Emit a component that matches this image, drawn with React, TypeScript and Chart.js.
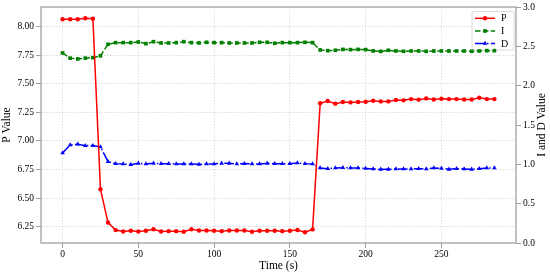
import React, { useEffect, useRef } from "react";
import { Chart, registerables } from "chart.js";

Chart.register(...registerables);

const timeS = [0, 5, 10, 15, 20, 25, 30, 35, 40, 45, 50, 55, 60, 65, 70, 75, 80, 85, 90, 95, 100, 105, 110, 115, 120, 125, 130, 135, 140, 145, 150, 155, 160, 165, 170, 175, 180, 185, 190, 195, 200, 205, 210, 215, 220, 225, 230, 235, 240, 245, 250, 255, 260, 265, 270, 275, 280, 285];

const pValues = [8.067, 8.067, 8.067, 8.076, 8.072, 6.577, 6.285, 6.219, 6.207, 6.213, 6.207, 6.213, 6.226, 6.207, 6.21, 6.21, 6.204, 6.226, 6.215, 6.215, 6.213, 6.21, 6.215, 6.215, 6.215, 6.204, 6.213, 6.213, 6.213, 6.21, 6.213, 6.22, 6.2, 6.225, 7.33, 7.35, 7.327, 7.341, 7.338, 7.341, 7.344, 7.353, 7.347, 7.347, 7.359, 7.356, 7.367, 7.362, 7.373, 7.364, 7.37, 7.367, 7.367, 7.364, 7.364, 7.379, 7.367, 7.367];

const iValues = [2.416, 2.35, 2.34, 2.35, 2.356, 2.38, 2.526, 2.547, 2.547, 2.547, 2.555, 2.534, 2.559, 2.543, 2.543, 2.547, 2.559, 2.547, 2.543, 2.551, 2.547, 2.547, 2.543, 2.543, 2.543, 2.543, 2.551, 2.551, 2.539, 2.547, 2.547, 2.547, 2.551, 2.547, 2.454, 2.445, 2.45, 2.461, 2.458, 2.461, 2.458, 2.442, 2.436, 2.45, 2.441, 2.437, 2.441, 2.441, 2.437, 2.441, 2.441, 2.441, 2.441, 2.441, 2.437, 2.441, 2.445, 2.445];

const dValues = [1.144, 1.246, 1.255, 1.238, 1.238, 1.221, 1.034, 1.009, 1.005, 0.996, 1.013, 1.005, 1.013, 1.009, 1.009, 1.005, 1.005, 1.005, 1.0, 1.005, 1.005, 1.013, 1.013, 1.005, 1.009, 1.005, 1.005, 1.013, 1.009, 1.009, 1.009, 1.017, 1.009, 1.005, 0.954, 0.945, 0.954, 0.958, 0.954, 0.954, 0.949, 0.941, 0.937, 0.937, 0.941, 0.941, 0.941, 0.945, 0.941, 0.954, 0.949, 0.937, 0.945, 0.941, 0.937, 0.945, 0.954, 0.954];

const xTicks = [0, 50, 100, 150, 200, 250];
const pTicks = [6.25, 6.5, 6.75, 7.0, 7.25, 7.5, 7.75, 8.0];
const idTicks = [0, 0.5, 1.0, 1.5, 2.0, 2.5, 3.0];
const seriesLabels = ["P", "I", "D"];
const xTitle = "Time (s)";
const pTitle = "P Value";
const idTitle = "I and D Value";

const FONT = "'Liberation Serif', 'Times New Roman', serif";
const RED = "#ff0000";
const GREEN = "#008000";
const BLUE = "#0000ff";
const GRID = "#d4d4d4";
const SPINE = "#a0a0a0";

export default function App() {
  const ref = useRef<HTMLCanvasElement>(null);

  useEffect(() => {
    document.body.style.margin = "0";
    const canvas = ref.current;
    if (!canvas) return;

    const zeroPad = (s: any) => {
      s.paddingTop = 0;
      s.paddingBottom = 0;
      s.paddingLeft = 0;
      s.paddingRight = 0;
    };

    const framePlugin = {
      id: "frame",
      afterDatasetsDraw(chart: any) {
        const { ctx, chartArea: a } = chart;
        ctx.save();
        ctx.strokeStyle = SPINE;
        ctx.lineWidth = 1.3;
        ctx.strokeRect(a.left, a.top, a.right - a.left, a.bottom - a.top);
        ctx.restore();
      },
    };

    const rightTitlePlugin = {
      id: "rightTitle",
      afterDraw(chart: any) {
        const { ctx, chartArea: a } = chart;
        ctx.save();
        ctx.translate(541.5, (a.top + a.bottom) / 2);
        ctx.rotate(-Math.PI / 2);
        ctx.fillStyle = "#000";
        ctx.font = `11.5px ${FONT}`;
        ctx.textAlign = "center";
        ctx.textBaseline = "middle";
        ctx.fillText(idTitle, 0, 0);
        ctx.restore();
      },
    };

    const legendPlugin = {
      id: "innerLegend",
      beforeDatasetsDraw(chart: any) {
        const { ctx } = chart;
        const bx = 472, by = 11.5, bw = 42, bh = 38.5;
        ctx.save();
        ctx.beginPath();
        const r = 2;
        ctx.moveTo(bx + r, by);
        ctx.lineTo(bx + bw - r, by);
        ctx.quadraticCurveTo(bx + bw, by, bx + bw, by + r);
        ctx.lineTo(bx + bw, by + bh - r);
        ctx.quadraticCurveTo(bx + bw, by + bh, bx + bw - r, by + bh);
        ctx.lineTo(bx + r, by + bh);
        ctx.quadraticCurveTo(bx, by + bh, bx, by + bh - r);
        ctx.lineTo(bx, by + r);
        ctx.quadraticCurveTo(bx, by, bx + r, by);
        ctx.closePath();
        ctx.fillStyle = "rgba(255,255,255,0.85)";
        ctx.fill();
        ctx.strokeStyle = "#d0d0d0";
        ctx.lineWidth = 0.8;
        ctx.stroke();

        const rows = [18.3, 31, 43.5];
        chart.data.datasets.forEach((ds: any, i: number) => {
          const y = rows[i];
          ctx.save();
          ctx.strokeStyle = ds.borderColor;
          ctx.lineWidth = ds.borderWidth;
          ctx.setLineDash(ds.borderDash || []);
          ctx.beginPath();
          ctx.moveTo(475, y);
          ctx.lineTo(495, y);
          ctx.stroke();
          ctx.restore();
          ctx.save();
          ctx.fillStyle = ds.backgroundColor;
          ctx.strokeStyle = ds.backgroundColor;
          ctx.setLineDash([]);
          const mx = 485;
          const rr = ds.pointRadius;
          ctx.beginPath();
          if (ds.pointStyle === "circle") {
            ctx.arc(mx, y, rr, 0, Math.PI * 2);
          } else if (ds.pointStyle === "rect") {
            const s = rr * Math.SQRT1_2;
            ctx.rect(mx - s, y - s, 2 * s, 2 * s);
          } else {
            const h = rr * 1.5;
            ctx.moveTo(mx, y - rr);
            ctx.lineTo(mx + rr * 0.866, y + rr * 0.5);
            ctx.lineTo(mx - rr * 0.866, y + rr * 0.5);
            ctx.closePath();
            void h;
          }
          ctx.fill();
          ctx.restore();
          ctx.save();
          ctx.fillStyle = "#000";
          ctx.font = `10px ${FONT}`;
          ctx.textBaseline = "middle";
          ctx.textAlign = "left";
          ctx.fillText(seriesLabels[i], 501, y + 0.5);
          ctx.restore();
        });
        ctx.restore();
      },
    };

    const tickFont = { family: FONT, size: 9.5 };

    const chart = new Chart(canvas, {
      type: "line",
      data: {
        datasets: [
          {
            label: seriesLabels[0],
            data: timeS.map((t, i) => ({ x: t, y: pValues[i] })),
            yAxisID: "yP",
            borderColor: RED,
            backgroundColor: RED,
            borderWidth: 1.5,
            pointStyle: "circle",
            pointRadius: 2.2,
            pointBorderWidth: 0,
            tension: 0,
          },
          {
            label: seriesLabels[1],
            data: timeS.map((t, i) => ({ x: t, y: iValues[i] })),
            yAxisID: "yID",
            borderColor: GREEN,
            backgroundColor: GREEN,
            borderWidth: 1.5,
            borderDash: [5.5, 2.4],
            pointStyle: "rect",
            pointRadius: 2.6,
            pointBorderWidth: 0,
            tension: 0,
          },
          {
            label: seriesLabels[2],
            data: timeS.map((t, i) => ({ x: t, y: dValues[i] })),
            yAxisID: "yID",
            borderColor: BLUE,
            backgroundColor: BLUE,
            borderWidth: 1.5,
            borderDash: [9.6, 2.4, 1.5, 2.4],
            pointStyle: "triangle",
            pointRadius: 2.7,
            pointBorderWidth: 0,
            tension: 0,
          },
        ],
      } as any,
      options: {
        animation: false,
        responsive: true,
        maintainAspectRatio: false,
        layout: { padding: { top: 7, left: 0, right: 0, bottom: 0 } },
        plugins: { legend: { display: false }, tooltip: { enabled: false } },
        scales: {
          x: {
            type: "linear",
            position: "bottom",
            min: -14.25,
            max: 299.25,
            afterBuildTicks: (s: any) => {
              s.ticks = xTicks.map((v) => ({ value: v }));
            },
            afterFit: (s: any) => {
              s.height = 32;
              zeroPad(s);
            },
            ticks: {
              font: tickFont,
              color: "#000",
              padding: 1,
              maxRotation: 0,
              autoSkip: false,
              callback: (v: any) => String(v),
            },
            grid: {
              color: GRID,
              lineWidth: 0.8,
              drawTicks: true,
              tickLength: 5,
              tickColor: SPINE,
              tickWidth: 1,
              tickBorderDash: [],
            },
            border: { display: false, dash: [1.5, 1.5] },
            title: {
              display: true,
              text: xTitle,
              color: "#000",
              font: { family: FONT, size: 11.5 },
              padding: { top: 0, bottom: 2.5 },
            },
          },
          yP: {
            type: "linear",
            position: "left",
            min: 6.106,
            max: 8.174,
            afterBuildTicks: (s: any) => {
              s.ticks = pTicks.map((v) => ({ value: v }));
            },
            afterFit: (s: any) => {
              s.width = 41;
              zeroPad(s);
            },
            ticks: {
              font: tickFont,
              color: "#000",
              padding: 2,
              callback: (v: any) => Number(v).toFixed(2),
            },
            grid: {
              color: GRID,
              lineWidth: 0.8,
              drawTicks: true,
              tickLength: 5,
              tickColor: SPINE,
              tickWidth: 1,
              tickBorderDash: [],
            },
            border: { display: false, dash: [1.5, 1.5] },
            title: {
              display: true,
              text: pTitle,
              color: "#000",
              font: { family: FONT, size: 11.5 },
              padding: { top: 0, bottom: 0 },
            },
          },
          yID: {
            type: "linear",
            position: "right",
            min: 0,
            max: 3,
            afterBuildTicks: (s: any) => {
              s.ticks = idTicks.map((v) => ({ value: v }));
            },
            afterFit: (s: any) => {
              s.width = 34;
              zeroPad(s);
            },
            ticks: {
              font: tickFont,
              color: "#000",
              padding: 2,
              callback: (v: any) => Number(v).toFixed(1),
            },
            grid: {
              drawOnChartArea: false,
              drawTicks: true,
              tickLength: 5,
              tickColor: SPINE,
              tickWidth: 1,
              tickBorderDash: [],
            },
            border: { display: false },
            title: { display: false },
          },
        },
      } as any,
      plugins: [legendPlugin, framePlugin, rightTitlePlugin],
    });

    return () => chart.destroy();
  }, []);

  return (
    <div style={{ width: 550, height: 275, position: "relative", background: "#fff" }}>
      <canvas ref={ref} />
    </div>
  );
}
